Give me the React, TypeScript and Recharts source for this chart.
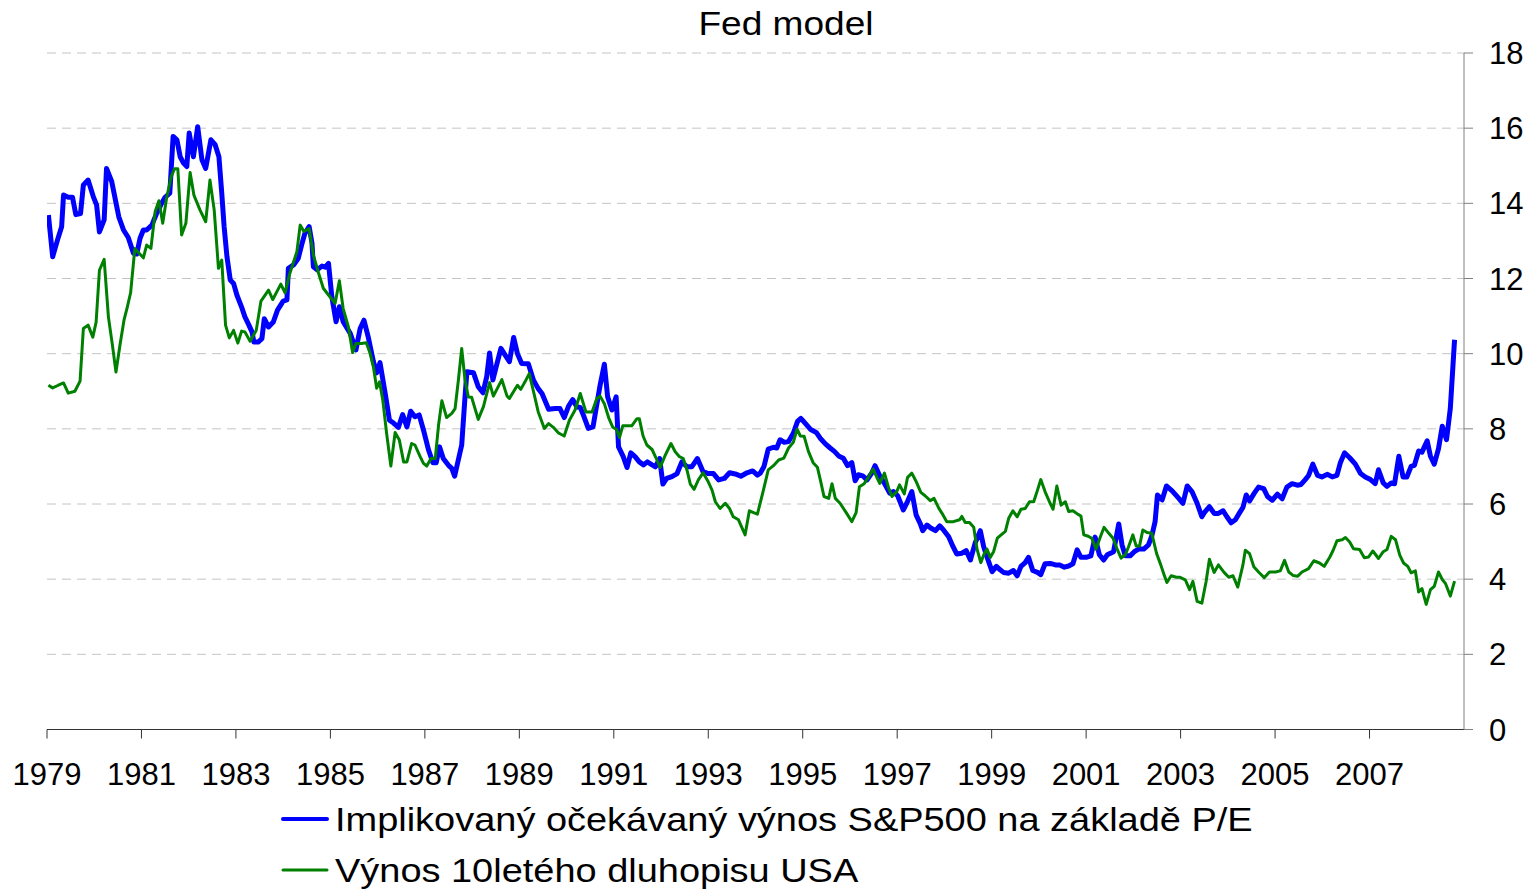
import React from 'react';
import { LineChart, Line, XAxis, YAxis, CartesianGrid } from 'recharts';

const FONT = "'Liberation Sans', Arial, Helvetica, sans-serif";

const chartTitle = 'Fed model';
const seriesNames = [
  'Implikovaný očekávaný výnos S&P500 na základě P/E',
  'Výnos 10letého dluhopisu USA',
];
const yearTicks = [1979, 1981, 1983, 1985, 1987, 1989, 1991, 1993, 1995, 1997, 1999, 2001, 2003, 2005, 2007];
const valueTicks = [0, 2, 4, 6, 8, 10, 12, 14, 16, 18];

// [decimal year, value]
const spEarningsYield: [number, number][] = [
  [1979.03,13.69],[1979.12,12.58],[1979.24,13.10],[1979.31,13.38],[1979.35,14.22],[1979.45,14.16],[1979.54,14.16],[1979.61,13.70],[1979.71,13.73],[1979.77,14.49],[1979.87,14.62],[1979.98,14.18],[1980.05,13.96],[1980.11,13.24],[1980.21,13.56],[1980.26,14.93],[1980.37,14.58],[1980.52,13.64],[1980.62,13.29],[1980.72,13.09],[1980.83,12.67],[1980.90,12.65],[1980.97,13.07],[1981.04,13.29],[1981.11,13.29],[1981.22,13.42],[1981.32,13.73],[1981.41,13.96],[1981.50,14.16],[1981.60,14.27],[1981.67,15.78],[1981.75,15.69],[1981.82,15.24],[1981.89,15.07],[1981.96,14.98],[1982.01,15.87],[1982.10,15.24],[1982.19,16.04],[1982.28,15.16],[1982.36,14.93],[1982.47,15.69],[1982.56,15.56],[1982.64,15.24],[1982.70,14.27],[1982.75,13.38],[1982.81,12.58],[1982.88,11.96],[1982.95,11.87],[1983.02,11.56],[1983.12,11.24],[1983.19,10.98],[1983.26,10.80],[1983.34,10.58],[1983.38,10.31],[1983.47,10.31],[1983.55,10.40],[1983.60,10.93],[1983.69,10.71],[1983.79,10.84],[1983.88,11.16],[1984.00,11.40],[1984.08,11.43],[1984.11,12.27],[1984.22,12.36],[1984.32,12.54],[1984.39,12.89],[1984.46,13.20],[1984.55,13.38],[1984.61,12.94],[1984.64,12.31],[1984.72,12.23],[1984.82,12.33],[1984.89,12.30],[1984.96,12.40],[1985.03,11.52],[1985.12,10.85],[1985.19,11.25],[1985.27,10.85],[1985.42,10.54],[1985.54,10.10],[1985.63,10.67],[1985.71,10.89],[1985.80,10.45],[1985.91,9.79],[1985.98,9.49],[1986.05,9.76],[1986.16,8.94],[1986.25,8.23],[1986.33,8.16],[1986.44,8.04],[1986.53,8.38],[1986.62,8.05],[1986.70,8.47],[1986.79,8.32],[1986.88,8.37],[1986.97,7.97],[1987.08,7.43],[1987.17,7.10],[1987.24,7.10],[1987.31,7.52],[1987.39,7.21],[1987.50,7.03],[1987.57,6.95],[1987.63,6.74],[1987.78,7.57],[1987.85,8.85],[1987.89,9.52],[1988.03,9.49],[1988.13,9.12],[1988.23,8.96],[1988.31,9.39],[1988.37,10.02],[1988.44,9.30],[1988.52,9.70],[1988.61,10.14],[1988.70,9.96],[1988.79,9.79],[1988.88,10.43],[1988.96,10.00],[1989.05,9.74],[1989.19,9.73],[1989.30,9.29],[1989.40,9.07],[1989.48,8.94],[1989.62,8.52],[1989.76,8.54],[1989.86,8.54],[1989.95,8.30],[1990.04,8.60],[1990.13,8.78],[1990.22,8.58],[1990.29,8.57],[1990.37,8.32],[1990.46,8.01],[1990.56,8.05],[1990.63,8.57],[1990.71,9.16],[1990.80,9.72],[1990.87,8.85],[1990.96,8.50],[1991.05,8.85],[1991.10,7.52],[1991.20,7.26],[1991.28,6.97],[1991.36,7.36],[1991.45,7.26],[1991.54,7.12],[1991.63,7.04],[1991.71,7.12],[1991.81,7.04],[1991.88,6.99],[1991.97,7.21],[1992.04,6.53],[1992.12,6.68],[1992.23,6.73],[1992.34,6.81],[1992.44,7.12],[1992.55,6.99],[1992.65,6.99],[1992.77,7.21],[1992.89,6.86],[1993.00,6.81],[1993.11,6.81],[1993.22,6.64],[1993.34,6.68],[1993.45,6.83],[1993.57,6.80],[1993.69,6.74],[1993.82,6.83],[1993.94,6.88],[1994.04,6.77],[1994.10,6.82],[1994.18,7.00],[1994.27,7.46],[1994.38,7.51],[1994.45,7.49],[1994.52,7.71],[1994.61,7.64],[1994.70,7.66],[1994.80,7.88],[1994.89,8.20],[1994.96,8.28],[1995.05,8.15],[1995.16,7.99],[1995.29,7.90],[1995.37,7.75],[1995.48,7.60],[1995.58,7.49],[1995.67,7.40],[1995.76,7.28],[1995.86,7.22],[1995.95,7.02],[1996.04,7.10],[1996.11,6.62],[1996.18,6.78],[1996.27,6.75],[1996.36,6.64],[1996.46,6.82],[1996.53,7.02],[1996.63,6.75],[1996.73,6.55],[1996.84,6.29],[1996.92,6.33],[1997.01,6.22],[1997.13,5.84],[1997.22,6.07],[1997.31,6.33],[1997.40,5.71],[1997.49,5.47],[1997.54,5.29],[1997.63,5.44],[1997.71,5.36],[1997.81,5.29],[1997.90,5.42],[1997.98,5.31],[1998.09,5.13],[1998.18,4.87],[1998.26,4.67],[1998.37,4.69],[1998.46,4.76],[1998.55,4.51],[1998.65,4.96],[1998.76,5.29],[1998.83,4.87],[1998.91,4.56],[1999.01,4.20],[1999.10,4.34],[1999.18,4.25],[1999.25,4.18],[1999.36,4.16],[1999.46,4.23],[1999.54,4.09],[1999.62,4.34],[1999.71,4.44],[1999.78,4.58],[1999.87,4.23],[1999.97,4.18],[2000.04,4.12],[2000.13,4.41],[2000.24,4.42],[2000.35,4.38],[2000.44,4.38],[2000.54,4.32],[2000.63,4.35],[2000.72,4.41],[2000.81,4.78],[2000.89,4.58],[2001.00,4.58],[2001.10,4.62],[2001.19,5.12],[2001.28,4.65],[2001.37,4.51],[2001.45,4.65],[2001.58,4.73],[2001.69,5.47],[2001.76,4.91],[2001.83,4.62],[2001.93,4.62],[2002.02,4.73],[2002.11,4.80],[2002.22,4.80],[2002.32,4.91],[2002.39,5.15],[2002.46,5.53],[2002.51,6.24],[2002.61,6.11],[2002.70,6.48],[2002.82,6.35],[2002.92,6.21],[2003.05,6.02],[2003.14,6.48],[2003.24,6.33],[2003.35,6.02],[2003.45,5.66],[2003.52,5.80],[2003.61,5.93],[2003.71,5.75],[2003.80,5.75],[2003.90,5.82],[2003.98,5.66],[2004.07,5.50],[2004.16,5.58],[2004.25,5.77],[2004.32,5.91],[2004.39,6.24],[2004.46,6.08],[2004.56,6.29],[2004.65,6.45],[2004.76,6.41],[2004.84,6.20],[2004.94,6.10],[2005.05,6.26],[2005.15,6.14],[2005.25,6.45],[2005.36,6.54],[2005.47,6.50],[2005.55,6.52],[2005.64,6.65],[2005.71,6.76],[2005.80,7.06],[2005.90,6.76],[2005.99,6.72],[2006.11,6.79],[2006.21,6.72],[2006.31,6.76],[2006.38,7.09],[2006.47,7.36],[2006.58,7.23],[2006.70,7.06],[2006.81,6.81],[2006.91,6.72],[2007.02,6.65],[2007.12,6.54],[2007.19,6.91],[2007.29,6.56],[2007.37,6.47],[2007.46,6.56],[2007.53,6.54],[2007.62,7.27],[2007.71,6.72],[2007.79,6.72],[2007.88,7.00],[2007.95,7.03],[2008.04,7.41],[2008.11,7.38],[2008.22,7.68],[2008.29,7.27],[2008.37,7.06],[2008.46,7.47],[2008.54,8.07],[2008.63,7.71],[2008.71,8.54],[2008.80,10.37],
];

const bondYield10y: [number, number][] = [
  [1979.03,9.16],[1979.12,9.09],[1979.24,9.16],[1979.35,9.22],[1979.45,8.95],[1979.59,9.00],[1979.70,9.27],[1979.77,10.67],[1979.87,10.76],[1979.97,10.44],[1980.04,10.84],[1980.11,12.22],[1980.21,12.51],[1980.30,10.98],[1980.39,10.18],[1980.46,9.51],[1980.55,10.27],[1980.63,10.89],[1980.70,11.24],[1980.77,11.62],[1980.86,12.80],[1980.95,12.67],[1981.04,12.55],[1981.11,12.89],[1981.20,12.80],[1981.29,13.78],[1981.37,14.07],[1981.45,13.47],[1981.53,14.13],[1981.63,14.71],[1981.70,14.92],[1981.77,14.92],[1981.85,13.16],[1981.94,13.47],[1982.03,14.82],[1982.11,14.22],[1982.24,13.82],[1982.36,13.51],[1982.45,14.62],[1982.54,13.82],[1982.63,12.27],[1982.70,12.49],[1982.78,10.76],[1982.86,10.42],[1982.95,10.62],[1983.04,10.28],[1983.12,10.60],[1983.19,10.58],[1983.30,10.33],[1983.43,10.62],[1983.53,11.40],[1983.69,11.69],[1983.78,11.44],[1983.95,11.85],[1984.04,11.62],[1984.13,12.09],[1984.29,12.71],[1984.36,13.42],[1984.44,13.25],[1984.55,13.33],[1984.64,12.62],[1984.75,12.14],[1984.85,11.74],[1984.96,11.56],[1985.10,11.34],[1985.19,11.94],[1985.27,11.20],[1985.38,10.72],[1985.47,10.03],[1985.54,10.27],[1985.66,10.27],[1985.76,10.29],[1985.84,10.01],[1985.91,9.65],[1985.98,9.08],[1986.04,9.25],[1986.11,8.76],[1986.19,7.88],[1986.28,7.01],[1986.37,7.90],[1986.46,7.70],[1986.55,7.12],[1986.62,7.12],[1986.72,7.61],[1986.79,7.57],[1986.90,7.26],[1986.97,7.08],[1987.04,7.01],[1987.13,7.21],[1987.22,7.21],[1987.29,8.10],[1987.36,8.75],[1987.46,8.30],[1987.57,8.41],[1987.64,8.54],[1987.71,9.30],[1987.78,10.14],[1987.85,9.30],[1987.92,8.85],[1987.99,8.84],[1988.13,8.25],[1988.24,8.59],[1988.37,9.23],[1988.45,8.87],[1988.63,9.31],[1988.74,8.87],[1988.79,8.81],[1988.96,9.16],[1989.03,9.05],[1989.12,9.25],[1989.21,9.47],[1989.31,8.94],[1989.40,8.45],[1989.53,8.01],[1989.62,8.14],[1989.72,8.04],[1989.83,7.89],[1989.95,7.81],[1990.06,8.23],[1990.18,8.50],[1990.29,8.94],[1990.41,8.45],[1990.54,8.45],[1990.64,8.81],[1990.71,8.87],[1990.80,8.67],[1990.89,8.30],[1990.98,8.04],[1991.06,7.98],[1991.12,7.77],[1991.19,8.08],[1991.29,8.08],[1991.38,8.08],[1991.49,8.27],[1991.54,8.27],[1991.62,7.81],[1991.70,7.57],[1991.81,7.45],[1991.90,7.21],[1991.98,6.97],[1992.09,7.30],[1992.21,7.61],[1992.30,7.39],[1992.39,7.26],[1992.47,7.21],[1992.55,6.90],[1992.62,6.53],[1992.70,6.39],[1992.79,6.64],[1992.89,6.83],[1993.00,6.59],[1993.08,6.37],[1993.15,6.06],[1993.25,5.88],[1993.36,6.02],[1993.45,5.88],[1993.53,5.66],[1993.64,5.58],[1993.78,5.18],[1993.87,5.82],[1993.96,5.77],[1994.04,5.73],[1994.16,6.33],[1994.27,6.91],[1994.38,7.02],[1994.49,7.17],[1994.60,7.22],[1994.70,7.49],[1994.80,7.64],[1994.88,7.99],[1994.95,7.81],[1995.03,7.80],[1995.12,7.40],[1995.22,7.10],[1995.31,6.98],[1995.38,6.60],[1995.45,6.20],[1995.55,6.15],[1995.62,6.54],[1995.69,6.15],[1995.79,6.02],[1995.92,5.77],[1996.04,5.53],[1996.13,5.77],[1996.20,6.46],[1996.30,6.54],[1996.39,6.71],[1996.49,6.93],[1996.57,6.71],[1996.63,6.55],[1996.73,6.82],[1996.82,6.42],[1996.89,6.20],[1996.99,6.33],[1997.05,6.51],[1997.15,6.27],[1997.22,6.71],[1997.31,6.82],[1997.40,6.60],[1997.50,6.31],[1997.59,6.22],[1997.70,6.09],[1997.78,6.15],[1997.88,5.89],[1997.97,5.71],[1998.05,5.53],[1998.19,5.53],[1998.32,5.58],[1998.37,5.67],[1998.44,5.51],[1998.53,5.51],[1998.62,5.38],[1998.69,4.80],[1998.77,4.44],[1998.84,4.67],[1998.90,4.80],[1998.97,4.58],[1999.04,4.73],[1999.12,5.09],[1999.20,5.18],[1999.29,5.27],[1999.36,5.62],[1999.45,5.82],[1999.54,5.66],[1999.62,5.86],[1999.71,5.88],[1999.80,6.06],[1999.89,6.06],[1999.97,6.37],[2000.04,6.65],[2000.13,6.33],[2000.23,6.04],[2000.30,5.86],[2000.38,6.48],[2000.47,5.97],[2000.56,6.06],[2000.63,5.80],[2000.72,5.82],[2000.82,5.73],[2000.89,5.68],[2000.95,5.18],[2001.03,5.15],[2001.12,5.09],[2001.21,4.80],[2001.30,5.12],[2001.38,5.38],[2001.48,5.22],[2001.57,5.09],[2001.65,4.82],[2001.74,4.56],[2001.83,4.65],[2001.90,4.87],[2001.99,5.18],[2002.06,4.88],[2002.13,4.88],[2002.20,5.31],[2002.29,5.24],[2002.39,5.22],[2002.49,4.69],[2002.58,4.38],[2002.65,4.12],[2002.71,3.91],[2002.80,4.09],[2002.91,4.05],[2002.99,4.05],[2003.10,3.98],[2003.19,3.72],[2003.26,3.94],[2003.35,3.41],[2003.45,3.36],[2003.54,3.94],[2003.61,4.53],[2003.71,4.18],[2003.80,4.38],[2003.92,4.18],[2004.02,4.05],[2004.11,4.09],[2004.21,3.79],[2004.32,4.38],[2004.37,4.77],[2004.46,4.68],[2004.55,4.33],[2004.65,4.19],[2004.77,4.04],[2004.88,4.19],[2005.01,4.19],[2005.11,4.22],[2005.20,4.50],[2005.29,4.19],[2005.38,4.10],[2005.48,4.08],[2005.57,4.19],[2005.71,4.28],[2005.82,4.49],[2005.94,4.43],[2006.04,4.34],[2006.16,4.59],[2006.23,4.77],[2006.31,5.02],[2006.42,5.05],[2006.49,5.11],[2006.58,4.99],[2006.66,4.81],[2006.79,4.79],[2006.89,4.57],[2006.98,4.59],[2007.07,4.75],[2007.19,4.55],[2007.29,4.73],[2007.37,4.79],[2007.46,5.14],[2007.55,5.05],[2007.64,4.64],[2007.72,4.43],[2007.81,4.34],[2007.88,4.17],[2007.97,4.22],[2008.04,3.66],[2008.11,3.75],[2008.20,3.33],[2008.29,3.72],[2008.37,3.81],[2008.46,4.19],[2008.54,3.99],[2008.61,3.88],[2008.71,3.55],[2008.80,3.95],
];

const spData = spEarningsYield.map(([t, v]) => ({ t, v }));
const bondData = bondYield10y.map(([t, v]) => ({ t, v }));

const BLUE = '#0000ff';
const GREEN = '#008000';

export default function App() {
  return (
    <div style={{ position: 'absolute', left: 0, top: 0, width: 1536, height: 889, background: '#fff', fontFamily: FONT, color: '#000', overflow: 'hidden' }}>
      <LineChart width={1536} height={889} margin={{ top: 53, right: 0, bottom: 99.5, left: 47 }}>
        <CartesianGrid vertical={false} stroke="#c4c4c4" strokeDasharray="9 6" />
        <XAxis
          type="number"
          dataKey="t"
          domain={[1979, 2009]}
          allowDataOverflow
          ticks={yearTicks}
          interval={0}
          height={60}
          tickSize={9}
          tickMargin={24.5}
          stroke="#333333"
          tick={{ fontSize: 31, fill: '#000', fontFamily: FONT }}
        />
        <YAxis
          orientation="right"
          type="number"
          domain={[0, 18]}
          ticks={valueTicks}
          interval={0}
          width={72}
          tickSize={9}
          tickMargin={16}
          stroke="#808080"
          tick={{ fontSize: 31, fill: '#000', fontFamily: FONT }}
        />
        <Line data={spData} dataKey="v" type="linear" stroke={BLUE} strokeWidth={5} dot={false} activeDot={false} isAnimationActive={false} strokeLinejoin="round" />
        <Line data={bondData} dataKey="v" type="linear" stroke={GREEN} strokeWidth={3} dot={false} activeDot={false} isAnimationActive={false} strokeLinejoin="round" />
      </LineChart>

      <div style={{ position: 'absolute', left: 785.5, top: 5.5, fontSize: 34, lineHeight: '34px', whiteSpace: 'nowrap', transform: 'translateX(-50%) scaleX(1.09)' }}>
        {chartTitle}
      </div>

      <svg style={{ position: 'absolute', left: 278, top: 808 }} width={56} height={72}>
        <line x1={5} y1={11} x2={49} y2={11} stroke={BLUE} strokeWidth={4} strokeLinecap="round" />
        <line x1={5} y1={62} x2={49} y2={62} stroke={GREEN} strokeWidth={3} strokeLinecap="round" />
      </svg>
      <div style={{ position: 'absolute', left: 335, top: 803, fontSize: 33, lineHeight: '33px', whiteSpace: 'nowrap', transformOrigin: 'left center', transform: 'scaleX(1.15)' }}>
        {seriesNames[0]}
      </div>
      <div style={{ position: 'absolute', left: 335, top: 854.4, fontSize: 33, lineHeight: '33px', whiteSpace: 'nowrap', transformOrigin: 'left center', transform: 'scaleX(1.15)' }}>
        {seriesNames[1]}
      </div>
    </div>
  );
}
